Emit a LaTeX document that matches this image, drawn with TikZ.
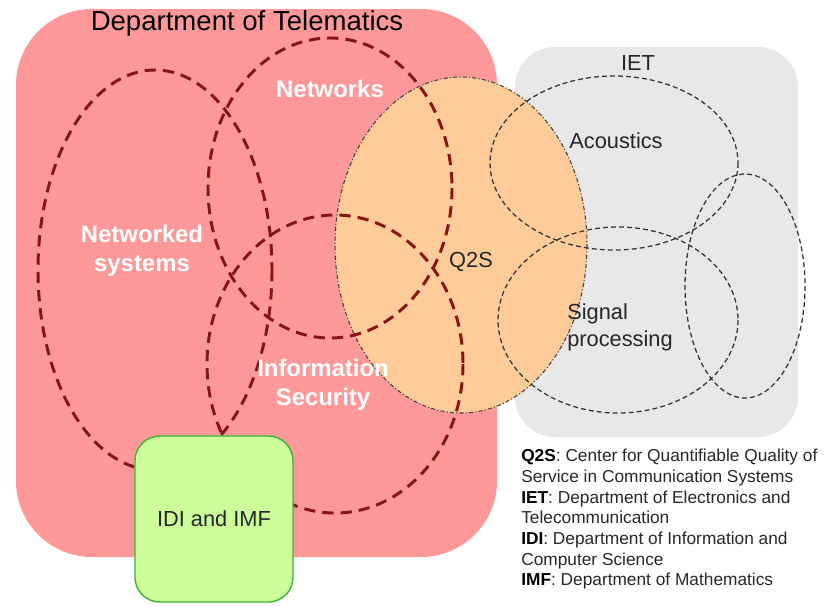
\documentclass[tikz,border=0pt]{standalone}
\usepackage{fontspec}
\setmainfont{Liberation Sans}
\usetikzlibrary{positioning}

\definecolor{telered}{RGB}{255,153,153}
\definecolor{ietgrey}{RGB}{232,232,232}
\definecolor{qpeach}{RGB}{255,204,153}
\definecolor{idigreen}{RGB}{204,255,153}
\definecolor{idiedge}{RGB}{60,180,50}
\definecolor{groupred}{RGB}{139,18,18}
\definecolor{legendgrey}{RGB}{40,40,40}

\begin{document}
\begin{tikzpicture}[x=0.025cm,y=-0.025cm,
  telegroup/.style={draw=groupred,line width=2.1pt,dash pattern=on 8pt off 5pt},
  ietgroup/.style={draw=black!80,line width=0.9pt,dash pattern=on 3.5pt off 2.2pt},
  q2sedge/.style={draw=black!75,line width=0.75pt,dash pattern=on 3pt off 1.5pt on 0.8pt off 1.5pt},
  whitetext/.style={text=white,font=\fontsize{17}{21}\selectfont\bfseries,align=center},
  blacktext/.style={text=black!85,font=\fontsize{15.5}{19}\selectfont},
  idibox/.style={draw=idiedge,line width=1pt,fill=idigreen,rounded corners=0.62cm,
    minimum width=3.95cm,minimum height=4.15cm}]
\useasboundingbox (0,0) rectangle (826,606);

% departments
\fill[telered,rounded corners=1.9cm] (16,9) rectangle (497,557);
\fill[ietgrey,rounded corners=1cm] (515,47) rectangle (798,437);
\fill[qpeach] (461,245) ellipse [x radius=126,y radius=168];

% groups at telematics
\draw[telegroup] (155,270) ellipse [x radius=117,y radius=200];
\draw[telegroup] (330,188) ellipse [x radius=122,y radius=150];
\draw[telegroup] (335,364) ellipse [x radius=128,y radius=149];

% groups at IET
\draw[ietgroup] (614,163) ellipse [x radius=124,y radius=87];
\draw[ietgroup] (618,320) ellipse [x radius=120,y radius=93];
\draw[ietgroup] (745,286) ellipse [x radius=60,y radius=112];

\draw[q2sedge] (461,245) ellipse [x radius=126,y radius=168];

\node[idibox,blacktext] (idi) at (214,519) {IDI and IMF};

% labels
\node[font=\fontsize{19.6}{22}\selectfont] (dept) at (247,23) {Department of Telematics};
\node[whitetext] (netw) at (330,89) {Networks};
\node[whitetext] (nsys) at (142,251) {Networked\\systems};
\node[whitetext] (isec) at (323,385) {Information\\Security};
\node[blacktext] (q2s) at (471,262) {Q2S};
\node[blacktext] (iet) at (638,63) {IET};
\node[blacktext] (acou) at (616,141) {Acoustics};
\node[blacktext,align=left,font=\fontsize{15.5}{19}\selectfont] (sigp) at (620,327) {Signal\\processing};

\node[anchor=north west,inner sep=0pt,align=left,text=legendgrey,
  font=\fontsize{12.3}{14.7}\selectfont] (legend) at (521,449)
  {\textcolor{black}{\textbf{Q2S}}: Center for Quantifiable Quality of\\
   Service in Communication Systems\\
   \textcolor{black}{\textbf{IET}}: Department of Electronics and\\
   Telecommunication\\
   \textcolor{black}{\textbf{IDI}}: Department of Information and\\
   Computer Science\\
   \textcolor{black}{\textbf{IMF}}: Department of Mathematics};
\end{tikzpicture}
\end{document}
